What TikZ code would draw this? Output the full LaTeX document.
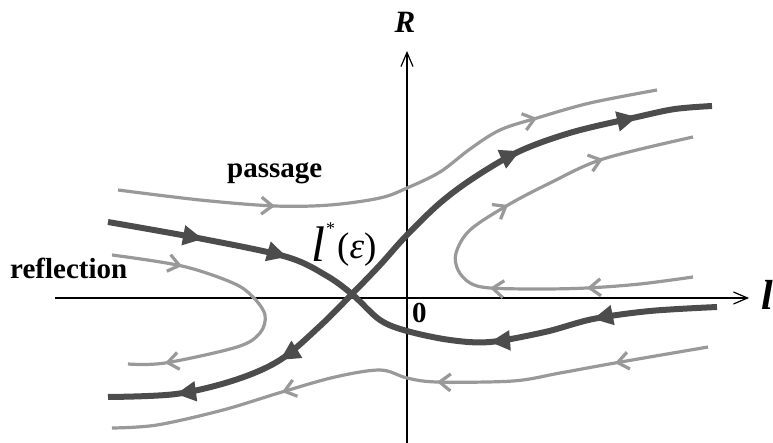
\documentclass[tikz,border=0pt]{standalone}
\usepackage{fontspec}
\setmainfont{Liberation Serif}
\usetikzlibrary{arrows.meta}
\definecolor{darkc}{HTML}{4C4C4C}
\definecolor{lightc}{HTML}{999999}
\begin{document}
\begin{tikzpicture}[x=1pt,y=-1pt,
  axis/.style={line width=1.2pt, -{Straight Barb[length=14pt,width=12pt]}},
  sep/.style={darkc, line width=6pt},
  traj/.style={lightc, line width=3.2pt},
  darr/.style={darkc, line width=6pt, -{Triangle[length=20pt,width=19pt]}},
  larr/.style={lightc, line width=3.2pt, shorten <=16pt, -{Straight Barb[length=11pt,width=17pt]}},
  lab/.style={inner sep=0pt, anchor=base west, font=\fontsize{29}{29}\selectfont\bfseries}]
\useasboundingbox (0,0) rectangle (773,443);

% axes
\coordinate (xs) at (55,298);
\coordinate (xe) at (749,298);
\coordinate (ys) at (407,443);
\coordinate (ye) at (407,51);
\draw[axis] (xs) -- (xe);
\draw[axis] (ys) -- (ye);

% light trajectories
\draw[traj] plot[smooth, tension=0.55] coordinates {(118,190) (200,200) (275,206) (330,205) (380,198) (407,188) (440,172) (470,149) (500,130) (537,118) (590,103) (657,90)};
\draw[traj] plot[smooth, tension=0.55] coordinates {(693,277) (640,284) (587,288) (540,289) (490,288) (470,283) (458,270) (456,253) (470,230) (508,205) (550,183) (603,159) (693,137)};
\draw[traj] plot[smooth, tension=0.55] coordinates {(112,255) (182,266) (233,283) (253,297) (265,315) (260,333) (237,347) (165,363) (128,364)};
\draw[traj] plot[smooth, tension=0.55] coordinates {(708,347) (615,363) (560,373) (513,381) (437,382) (407,378) (380,370) (335,377) (282,392) (223,410) (157,425) (112,428)};

\draw[larr] (255,205.4) -- (275,206);
\draw[larr] (517.8,123.7) -- (537,118);
\draw[larr] (607,287) -- (587,288);
\draw[larr] (509.9,289.7) -- (490,288);
\draw[larr] (490.8,215.1) -- (508,205);
\draw[larr] (584,165.1) -- (603,159);
\draw[larr] (162.5,261.5) -- (182,266);
\draw[larr] (184.8,359.9) -- (165,363);
\draw[larr] (634.7,359.5) -- (615,363);
\draw[larr] (457,382.6) -- (437,382);
\draw[larr] (301.2,386.3) -- (282,392);

% separatrices
\draw[sep] plot[smooth, tension=0.55] coordinates {(108,222) (203,239) (287,257) (327,276) (353,295) (380,320) (407,331) (450,340) (490,342) (545,332) (593,319) (650,311) (717,307)};
\draw[sep] plot[smooth, tension=0.55] coordinates {(108,397) (176,394) (235,380) (280,360) (320,326) (353,293) (380,265) (406,236) (440,203) (475,177) (520,151) (573,132) (637,117) (675,109) (712,106)};

\draw[darr] (183.3,235.3) -- (203,239);
\draw[darr] (267.8,251.3) -- (287,257);
\draw[darr] (510,340.4) -- (490,342);
\draw[darr] (612.6,315.1) -- (593,319);
\draw[darr] (195.8,391.3) -- (176,394);
\draw[darr] (296.9,349.3) -- (280,360);
\draw[darr] (501.8,159.3) -- (520,151);
\draw[darr] (617.5,121.4) -- (637,117);

% labels
\node[lab] (passage) at (227,178) {passage};
\node[lab] (reflection) at (10,279) {reflection};
\node[lab] (zero) at (412,323) {0};
\node[inner sep=0pt, anchor=base, font=\fontsize{31}{31}\selectfont\bfseries\itshape] (Rlab) at (405,33) {R};
\node[inner sep=0pt, anchor=base west, font=\fontsize{42}{42}\selectfont\bfseries\itshape] (llab) at (761,309) {l};
\node[inner sep=0pt, anchor=base west, font=\fontsize{50}{50}\selectfont\itshape] (lstar) at (311,262) {l};
\node[inner sep=0pt, anchor=base west, font=\fontsize{18}{18}\selectfont] (star) at (326,235) {*};
\node[inner sep=0pt, anchor=base west, font=\fontsize{37}{37}\selectfont] (eps) at (337,259) {(\textit{ε})};
\end{tikzpicture}
\end{document}
